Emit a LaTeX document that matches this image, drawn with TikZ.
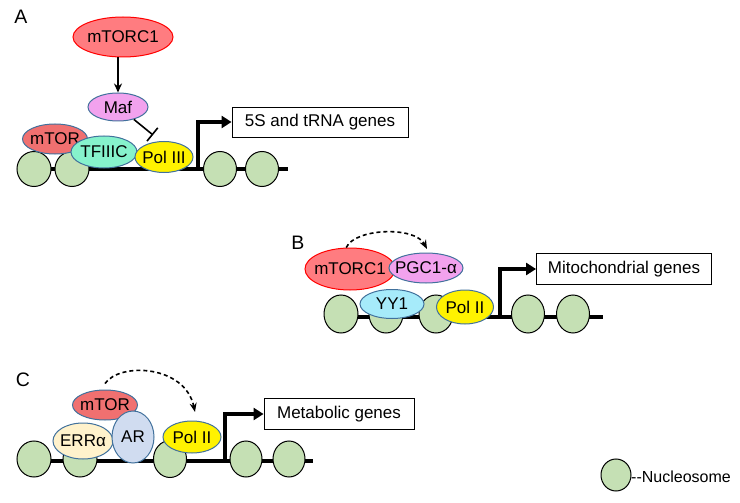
\documentclass[tikz,border=0pt]{standalone}
\usepackage{fontspec}
\setmainfont{Liberation Sans}
\usetikzlibrary{shapes.geometric,arrows.meta}
\definecolor{pblue}{HTML}{41719C}
\definecolor{redA}{HTML}{FF7C80}
\definecolor{redB}{HTML}{FF0000}
\definecolor{mtorred}{HTML}{F07070}
\definecolor{pinkv}{HTML}{F2A2EE}
\definecolor{aqua}{HTML}{86F2CC}
\definecolor{cyanl}{HTML}{A6EBFA}
\definecolor{cream}{HTML}{FFF2CC}
\definecolor{arblue}{HTML}{D0DCF0}
\definecolor{nucg}{HTML}{C5E0B4}
\begin{document}
\begin{tikzpicture}[x=1pt,y=-1pt,
  txt/.style={font=\fontsize{17}{20}\selectfont},
  prot/.style={ellipse, draw=pblue, line width=1pt, inner xsep=-30pt, inner ysep=-14pt, txt},
  nuc/.style={ellipse, draw=black, fill=nucg, line width=1pt, inner sep=0pt, minimum width=34pt, minimum height=35pt},
  gbox/.style={draw=black, line width=0.9pt, inner sep=0pt, minimum height=30pt, txt},
  dna/.style={line width=3.4pt},
  tss/.style={line width=3.4pt, -{Triangle[length=10pt,width=12pt]}},
  dasharr/.style={dashed, line width=1.6pt, dash pattern=on 4pt off 3pt, -{Stealth[length=9pt,width=7pt]}},
  panel/.style={font=\fontsize{19.5}{22}\selectfont, inner sep=0pt}
]
\useasboundingbox (0,0) rectangle (740,503);

% ---------- Panel A ----------
\node[panel] (labA) at (21,17) {A};
\coordinate (dnaA0) at (34,169);
\coordinate (dnaA1) at (288,169);
\draw[dna] (dnaA0) -- (dnaA1);
\node[nuc] (nA1) at (34,169) {};
\node[nuc] (nA2) at (72,169) {};
\node[nuc, minimum width=33pt] (nA3) at (220,169) {};
\node[nuc, minimum width=33pt] (nA4) at (262,169) {};
\node[prot, fill=redA, draw=redB, minimum width=100pt, minimum height=40pt] (mtorc1A) at (123,37) {mTORC1};
\node[prot, fill=pinkv, minimum width=60pt, minimum height=28pt] (mafA) at (118,107) {Maf};
\node[prot, fill=mtorred, minimum width=65pt, minimum height=30pt] (mtorA) at (55,139) {mTOR};
\node[prot, fill=aqua, minimum width=66pt, minimum height=32pt] (tf3c) at (104,152) {TFIIIC};
\node[prot, fill=yellow, minimum width=58pt, minimum height=31pt] (pol3) at (164,157) {Pol III};
\draw[line width=1.8pt, -{Stealth[length=9pt,width=8pt]}] (mtorc1A.south -| mafA.north) -- (mafA.north);
\coordinate (inhA) at (153,135);
\draw[line width=1.6pt, -{Bar[width=17pt]}] (mafA.-38) -- (inhA);
\node[gbox, minimum width=176pt] (boxA) at (320,122) {5S and tRNA genes};
\coordinate (tssA) at (198,169);
\draw[tss] (tssA) |- (boxA.west);

% ---------- Panel B ----------
\node[panel] (labB) at (298,243) {B};
\coordinate (dnaB0) at (341,317);
\coordinate (dnaB1) at (603,317);
\draw[dna] (dnaB0) -- (dnaB1);
\node[nuc, minimum height=38pt] (nB1) at (341,314) {};
\node[nuc, minimum height=38pt] (nB2) at (386,314) {};
\node[nuc, minimum height=38pt] (nB3) at (436,314) {};
\node[nuc, minimum height=38pt, minimum width=33pt] (nB4) at (528,314) {};
\node[nuc, minimum height=38pt, minimum width=33pt] (nB5) at (573,314) {};
\node[prot, fill=cyanl, minimum width=64pt, minimum height=29pt] (yy1) at (392,304) {YY1};
\node[prot, fill=yellow, minimum width=57pt, minimum height=34pt] (pol2B) at (465,307) {Pol II};
\node[prot, fill=redA, draw=redB, minimum width=90pt, minimum height=42pt] (mtorc1B) at (350,269) {mTORC1};
\node[prot, fill=pinkv, minimum width=74pt, minimum height=30pt] (pgc) at (426,268) {PGC1-α};
\coordinate (dashB1) at (427,249);
\draw[dasharr] (mtorc1B.100) .. controls (355,228) and (415,226) .. (dashB1);
\node[gbox, minimum width=175pt, minimum height=31pt] (boxB) at (624,269) {Mitochondrial genes};
\coordinate (tssB) at (500,317);
\draw[tss] (tssB) |- (boxB.west);

% ---------- Panel C ----------
\node[panel] (labC) at (23,380) {C};
\coordinate (dnaC0) at (34,461);
\coordinate (dnaC1) at (313,461);
\draw[dna] (dnaC0) -- (dnaC1);
\node[nuc, minimum height=36pt] (nC1) at (34,459) {};
\node[nuc, minimum height=36pt] (nC2) at (80,459) {};
\node[nuc, minimum height=37pt, minimum width=33pt] (nC3) at (170,459) {};
\node[nuc, minimum height=36pt, minimum width=32pt] (nC4) at (246,459) {};
\node[nuc, minimum height=36pt, minimum width=32pt] (nC5) at (289,459) {};
\node[prot, fill=mtorred, minimum width=65pt, minimum height=30pt] (mtorC) at (105,405) {mTOR};
\node[prot, fill=cream, minimum width=60pt, minimum height=36pt] (erra) at (83,441) {ERRα};
\node[prot, fill=arblue, minimum width=42pt, minimum height=52pt] (ar) at (133,437) {AR};
\node[prot, fill=yellow, minimum width=58pt, minimum height=32pt] (pol2C) at (192,437) {Pol II};
\coordinate (dashC1) at (195,412);
\draw[dasharr] ([yshift=6pt]mtorC.north) .. controls (120,362) and (185,365) .. (dashC1);
\node[gbox, minimum width=150pt, minimum height=31pt] (boxC) at (339,414) {Metabolic genes};
\coordinate (tssC) at (225,461);
\draw[tss] (tssC) |- (boxC.west);

% ---------- Legend ----------
\node[nuc, minimum width=30pt, minimum height=32pt] (legnuc) at (616,475) {};
\node[anchor=west, inner sep=0pt, font=\fontsize{16}{19}\selectfont] (legtxt) at (631,477) {-{}-Nucleosome};
\end{tikzpicture}
\end{document}
